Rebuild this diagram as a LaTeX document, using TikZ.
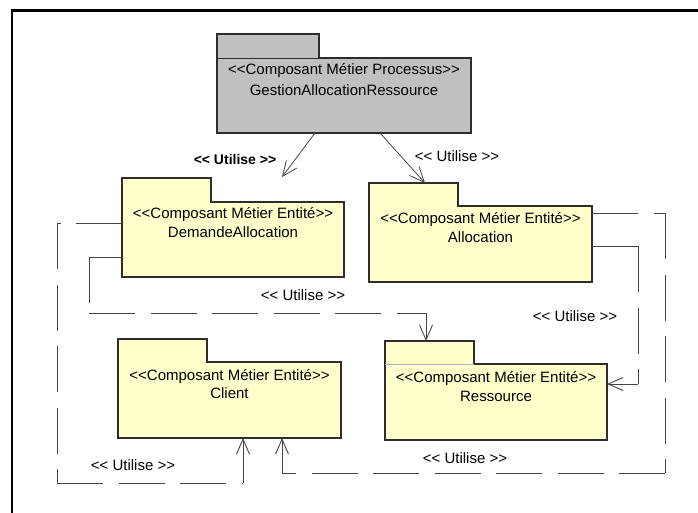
\documentclass[tikz,border=0pt]{standalone}
\usepackage{fontspec}
\setmainfont{Liberation Sans}[Ligatures=TeXOff]
\usetikzlibrary{arrows.meta,calc}
\definecolor{pkgyellow}{RGB}{255,255,204}
\definecolor{pkggray}{RGB}{192,192,192}
\definecolor{edgecol}{RGB}{70,70,70}
\definecolor{outcol}{RGB}{45,45,45}
\begin{document}
\begin{tikzpicture}[x=1pt,y=-1pt,
  pbody/.style={rectangle,draw=none,inner sep=0pt,outer sep=0pt,anchor=north west},
  ptab/.style={rectangle,draw=none,inner sep=0pt,outer sep=0pt,anchor=north west},
  pout/.style={draw=outcol,line width=1.1pt,line join=miter},
  ptext/.style={anchor=base,inner sep=0pt,font=\fontsize{15pt}{18pt}\selectfont},
  lbl/.style={anchor=base,inner sep=0pt,font=\fontsize{15pt}{18pt}\selectfont},
  boldlbl/.style={anchor=base,inner sep=0pt,font=\fontsize{14pt}{17pt}\selectfont\bfseries},
  dep/.style={draw=edgecol,line width=0.9pt,dash pattern=on 46pt off 15.5pt},
  deparr/.style={draw=edgecol,line width=0.9pt,-{Straight Barb[length=15pt,width=13pt]}},
  frameline/.style={draw=black,line width=2.6pt}]
\useasboundingbox (0,0) rectangle (698,513);
% frame
\coordinate (fTL) at (12,10.8);
\coordinate (fTR) at (698,10.8);
\coordinate (fBL) at (12,513);
\draw[frameline] (fBL) -- (fTL) -- (fTR);

% ---- Gray package
\node[pbody,fill=pkggray,minimum width=254pt,minimum height=75pt] (gBody) at (217,58) {};
\node[ptab,fill=pkggray,minimum width=102pt,minimum height=24pt] (gTab) at (217,34) {};
\draw[pout] (gBody.south west) -- (gTab.north west) -- (gTab.north east) -- (gTab.south east) -- (gBody.north east) -- (gBody.south east) -- cycle;
\draw[outcol,line width=0.9pt] (gBody.north west) -- (gBody.north east);
\node[ptext] (gT1) at ($(gBody.north)+(0,17)$) {<<Composant Métier Processus>>};
\node[ptext] (gT2) at ($(gBody.north)+(0,38)$) {GestionAllocationRessource};

% ---- DemandeAllocation
\node[pbody,fill=pkgyellow,minimum width=222pt,minimum height=75pt] (dBody) at (122,202) {};
\node[ptab,fill=pkgyellow,minimum width=89pt,minimum height=24pt] (dTab) at (122,178) {};
\draw[pout] (dBody.south west) -- (dTab.north west) -- (dTab.north east) -- (dTab.south east) -- (dBody.north east) -- (dBody.south east) -- cycle;
\node[ptext] (dT1) at ($(dBody.north)+(0,16)$) {<<Composant Métier Entité>>};
\node[ptext] (dT2) at ($(dBody.north)+(0,35)$) {DemandeAllocation};

% ---- Allocation
\node[pbody,fill=pkgyellow,minimum width=223pt,minimum height=76pt] (aBody) at (369,206) {};
\node[ptab,fill=pkgyellow,minimum width=89pt,minimum height=23pt] (aTab) at (369,183) {};
\draw[pout] (aBody.south west) -- (aTab.north west) -- (aTab.north east) -- (aTab.south east) -- (aBody.north east) -- (aBody.south east) -- cycle;
\node[ptext] (aT1) at ($(aBody.north)+(0,17)$) {<<Composant Métier Entité>>};
\node[ptext] (aT2) at ($(aBody.north)+(0,36)$) {Allocation};

% ---- Client
\node[pbody,fill=pkgyellow,minimum width=223pt,minimum height=76pt] (cBody) at (118,362) {};
\node[ptab,fill=pkgyellow,minimum width=89pt,minimum height=23pt] (cTab) at (118,339) {};
\draw[pout] (cBody.south west) -- (cTab.north west) -- (cTab.north east) -- (cTab.south east) -- (cBody.north east) -- (cBody.south east) -- cycle;
\node[ptext] (cT1) at ($(cBody.north)+(0,18)$) {<<Composant Métier Entité>>};
\node[ptext] (cT2) at ($(cBody.north)+(0,36)$) {Client};

% ---- Ressource
\node[pbody,fill=pkgyellow,minimum width=222pt,minimum height=76pt] (rBody) at (385,364) {};
\node[ptab,fill=pkgyellow,minimum width=89pt,minimum height=23pt] (rTab) at (385,341) {};
\draw[pout] (rBody.south west) -- (rTab.north west) -- (rTab.north east) -- (rTab.south east) -- (rBody.north east) -- (rBody.south east) -- cycle;
\draw[black!30,line width=0.8pt] (rTab.south west) -- (rTab.south east);
\node[ptext] (rT1) at ($(rBody.north)+(0,18)$) {<<Composant Métier Entité>>};
\node[ptext] (rT2) at ($(rBody.north)+(0,37)$) {Ressource};

% ---- top dependencies
\coordinate (gs1) at ($(gBody.south west)+(98,0)$);
\coordinate (gs2) at ($(gBody.south west)+(163,0)$);
\coordinate (tipL) at (282,177);
\coordinate (tipR) at ($(aTab.north west)+(56,0)$);
\draw[deparr,line width=0.8pt] (gs1) -- (tipL);
\draw[deparr,line width=0.8pt] (gs2) -- (tipR);
\node[boldlbl] (lTopL) at (235,165) {<< Utilise >>};
\node[lbl] (lTopR) at (457,162) {<< Utilise >>};

% ---- Demande -> Client
\coordinate (a1) at (57,223);
\coordinate (a2) at (57,483);
\coordinate (a3) at (243,483);
\draw[dep] (dBody.west |- a1) -- (a1);
\draw[dep] (a1) -- (a2);
\draw[dep] (a2) -- (a3);
\draw[deparr] (a3) -- (cBody.south -| a3);
\node[lbl] (lA) at (133,470) {<< Utilise >>};

% ---- Demande -> Ressource
\coordinate (b1) at (89,257);
\coordinate (b2) at (89,313);
\coordinate (b3) at (426,313);
\draw[dep] (dBody.west |- b1) -- (b1);
\draw[dep] (b1) -- (b2);
\draw[dep] (b2) -- (b3);
\draw[deparr] (b3) -- (rTab.north -| b3);
\node[lbl] (lB) at (303,300) {<< Utilise >>};

% ---- Allocation -> Client
\coordinate (c1) at (665,213);
\coordinate (c2) at (665,473);
\coordinate (c3) at (282,473);
\draw[dep] (aBody.east |- c1) -- (c1);
\draw[dep] (c1) -- (c2);
\draw[dep] (c2) -- (c3);
\draw[deparr] (c3) -- (cBody.south -| c3);
\node[lbl] (lC) at (465,463) {<< Utilise >>};

% ---- Allocation -> Ressource
\coordinate (d1) at (638,246);
\coordinate (d2) at (638,384);
\draw[dep] (aBody.east |- d1) -- (d1);
\draw[dep] (d1) -- (d2);
\draw[deparr] (d2) -- (rBody.east |- d2);
\node[lbl] (lD) at (575,321) {<< Utilise >>};
\end{tikzpicture}
\end{document}
